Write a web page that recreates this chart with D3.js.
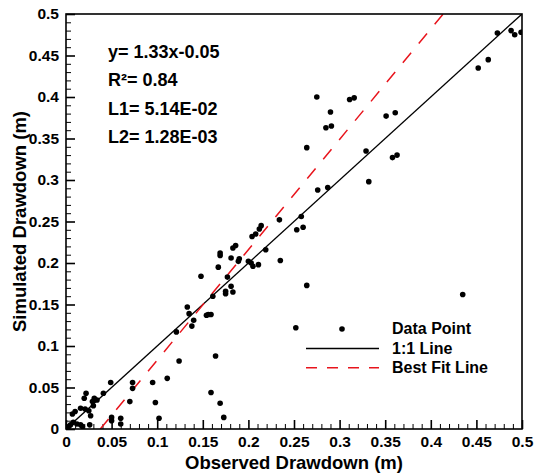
<!DOCTYPE html>
<html>
<head>
<meta charset="utf-8">
<script src="https://cdn.jsdelivr.net/npm/d3@7"></script>
<style>
  body { margin: 0; background: #fff; }
  svg { display: block; font-family: "Liberation Sans", Arial, sans-serif; font-weight: bold; }
</style>
</head>
<body>
<div id="chart"></div>
<script>
// observed (x) vs simulated (y) drawdown, metres
const observed = [
  0.001, 0.003, 0.005, 0.008, 0.012, 0.016, 0.018, 0.026, 0.007, 0.010,
  0.016, 0.021, 0.025, 0.027, 0.020, 0.022, 0.029, 0.031, 0.034, 0.030,
  0.041, 0.049, 0.050, 0.050, 0.060, 0.060, 0.073, 0.073, 0.070, 0.095,
  0.098, 0.102, 0.111, 0.121, 0.124, 0.133, 0.135, 0.140, 0.138, 0.154,
  0.156, 0.159, 0.148, 0.161, 0.175, 0.175, 0.183, 0.181, 0.177, 0.159,
  0.164, 0.169, 0.173, 0.167, 0.169, 0.169, 0.181, 0.190, 0.189, 0.200,
  0.203, 0.205, 0.211, 0.183, 0.186, 0.219, 0.204, 0.208, 0.212, 0.214,
  0.234, 0.235, 0.253, 0.260, 0.258, 0.264, 0.252, 0.264, 0.276, 0.287,
  0.285, 0.291, 0.290, 0.275, 0.311, 0.316, 0.329, 0.332, 0.351, 0.361,
  0.358, 0.363, 0.435, 0.452, 0.463, 0.473, 0.488, 0.492, 0.499
];
const simulated = [
  0.002, 0.003, 0.005, 0.008, 0.006, 0.005, 0.003, 0.005, 0.018, 0.021,
  0.025, 0.024, 0.022, 0.016, 0.037, 0.043, 0.033, 0.037, 0.035, 0.028,
  0.043, 0.056, 0.014, 0.010, 0.013, 0.006, 0.056, 0.049, 0.033, 0.056,
  0.032, 0.013, 0.061, 0.117, 0.082, 0.147, 0.139, 0.131, 0.124, 0.137,
  0.138, 0.138, 0.184, 0.160, 0.166, 0.163, 0.165, 0.172, 0.183, 0.044,
  0.088, 0.031, 0.014, 0.195, 0.209, 0.212, 0.206, 0.205, 0.202, 0.202,
  0.200, 0.196, 0.198, 0.218, 0.221, 0.216, 0.232, 0.235, 0.241, 0.245,
  0.252, 0.203, 0.240, 0.243, 0.256, 0.173, 0.122, 0.339, 0.288, 0.291,
  0.363, 0.365, 0.382, 0.400, 0.397, 0.399, 0.335, 0.298, 0.377, 0.381,
  0.327, 0.330, 0.162, 0.435, 0.445, 0.477, 0.480, 0.475, 0.478
];

const tickValues = [0, 0.05, 0.1, 0.15, 0.2, 0.25, 0.3, 0.35, 0.4, 0.45, 0.5];
const tickLabels = ["0", "0.05", "0.1", "0.15", "0.2", "0.25", "0.3", "0.35", "0.4", "0.45", "0.5"];
const minorTicks = d3.range(0, 51).map(d => d / 100).filter(d => Math.round(d * 100) % 5 !== 0);

const fitSlope = 1.33, fitIntercept = -0.05;
const statLines = ["y= 1.33x-0.05", "R\u00b2= 0.84", "L1= 5.14E-02", "L2= 1.28E-03"];
const legendItems = ["Data Point", "1:1 Line", "Best Fit Line"];

const W = 536, H = 474;
const margin = {top: 14, right: 14, bottom: 45, left: 66};
const width = W - margin.left - margin.right;
const height = H - margin.top - margin.bottom;

const svg = d3.select("#chart").append("svg")
  .attr("width", W)
  .attr("height", H);

const g = svg.append("g")
  .attr("transform", "translate(" + margin.left + "," + margin.top + ")");

const x = d3.scaleLinear().domain([0, 0.5]).range([0, width]);
const y = d3.scaleLinear().domain([0, 0.5]).range([height, 0]);

g.append("clipPath").attr("id", "clip")
  .append("rect").attr("width", width).attr("height", height);

// strip the axis defaults so the svg font applies
function styleAxis(a, w) {
  a.attr("font-family", null).attr("font-size", null);
  a.select(".domain").remove();
  a.selectAll("line").attr("stroke-width", w);
  a.selectAll("text").attr("font-size", 15.5).attr("fill", "#000");
}

// minor ticks (inward)
g.append("g")
  .attr("transform", "translate(0," + height + ")")
  .call(d3.axisBottom(x).tickValues(minorTicks).tickSize(-5).tickFormat(""))
  .call(a => styleAxis(a, 1));
g.append("g")
  .call(d3.axisLeft(y).tickValues(minorTicks).tickSize(-5).tickFormat(""))
  .call(a => styleAxis(a, 1));

// major ticks
g.append("g")
  .attr("transform", "translate(0," + height + ")")
  .call(d3.axisBottom(x).tickValues(tickValues).tickSize(-9).tickPadding(7)
    .tickFormat((d, i) => tickLabels[i]))
  .call(a => styleAxis(a, 1.6));
g.append("g")
  .call(d3.axisLeft(y).tickValues(tickValues).tickSize(-9).tickPadding(7)
    .tickFormat((d, i) => tickLabels[i]))
  .call(a => styleAxis(a, 1.6));

const plot = g.append("g").attr("clip-path", "url(#clip)");

// 1:1 line
plot.append("line")
  .attr("x1", x(0)).attr("y1", y(0))
  .attr("x2", x(0.5)).attr("y2", y(0.5))
  .attr("stroke", "#000").attr("stroke-width", 1.3);

// best fit line
const fx0 = -fitIntercept / fitSlope, fx1 = (0.5 - fitIntercept) / fitSlope;
plot.append("line")
  .attr("x1", x(fx0)).attr("y1", y(fitSlope * fx0 + fitIntercept))
  .attr("x2", x(fx1)).attr("y2", y(fitSlope * fx1 + fitIntercept))
  .attr("stroke", "#e8141c").attr("stroke-width", 1.5)
  .attr("stroke-dasharray", "13,12");

// data points
plot.selectAll(".dot")
  .data(observed.map((d, i) => ({x: d, y: simulated[i]})))
  .enter().append("circle")
  .attr("class", "dot")
  .attr("cx", d => x(d.x))
  .attr("cy", d => y(d.y))
  .attr("r", 2.8)
  .attr("fill", "#000");

// frame
g.append("rect")
  .attr("width", width).attr("height", height)
  .attr("fill", "none").attr("stroke", "#000").attr("stroke-width", 1.6);

// stats text
g.selectAll(".stat")
  .data(statLines)
  .enter().append("text")
  .attr("class", "stat")
  .attr("x", 42)
  .attr("y", (d, i) => 44 + i * 28.3)
  .attr("font-size", 18)
  .text(d => d);

// legend
const lg = g.append("g").attr("transform", "translate(240,315)");
lg.append("circle").attr("cx", 36).attr("cy", 0).attr("r", 2.8).attr("fill", "#000");
lg.append("line").attr("x1", 0).attr("x2", 73).attr("y1", 19.5).attr("y2", 19.5)
  .attr("stroke", "#000").attr("stroke-width", 1.3);
lg.append("line").attr("x1", 0).attr("x2", 73).attr("y1", 38.8).attr("y2", 38.8)
  .attr("stroke", "#e8141c").attr("stroke-width", 1.5).attr("stroke-dasharray", "11,10");
lg.selectAll(".lt")
  .data(legendItems)
  .enter().append("text")
  .attr("class", "lt")
  .attr("x", 86)
  .attr("y", (d, i) => 5 + i * 19.5)
  .attr("font-size", 16)
  .text(d => d);

// axis titles
svg.append("text")
  .attr("x", margin.left + width / 2)
  .attr("y", 469)
  .attr("text-anchor", "middle")
  .attr("font-size", 18.5)
  .text("Observed Drawdown (m)");
svg.append("text")
  .attr("transform", "translate(26," + (margin.top + height / 2) + ") rotate(-90)")
  .attr("text-anchor", "middle")
  .attr("font-size", 18.5)
  .text("Simulated Drawdown (m)");
</script>
</body>
</html>
